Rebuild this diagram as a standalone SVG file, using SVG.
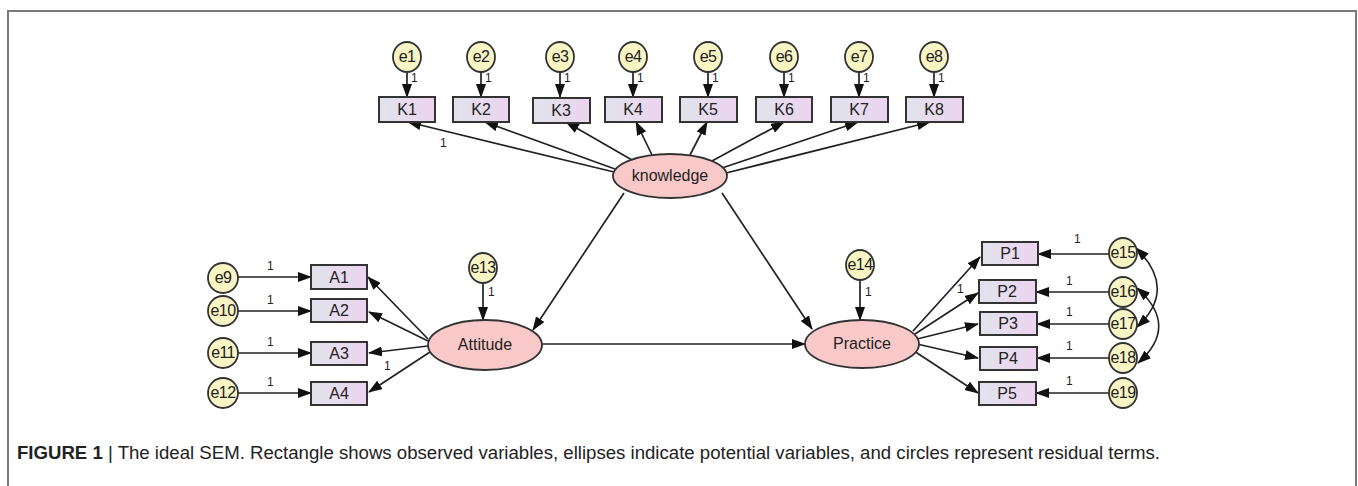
<svg xmlns="http://www.w3.org/2000/svg" width="1358" height="486" viewBox="0 0 1358 486">
<style>
.frame{fill:none;stroke:#7a7a7a;stroke-width:2}
.box{fill:url(#boxg);stroke:#333;stroke-width:2}
.err{fill:#f8f4c4;stroke:#333;stroke-width:1.8}
.lat{fill:#f8c9c8;stroke:#333;stroke-width:1.8}
.lbl{font-family:"Liberation Sans",Arial,sans-serif;font-size:16px;fill:#222;text-anchor:middle}
.el{letter-spacing:-0.6px}
.one{font-family:"Liberation Sans",Arial,sans-serif;font-size:12px;fill:#222}
.ar{fill:none;stroke:#222;stroke-width:1.7;marker-end:url(#ah)}
.cov{fill:none;stroke:#222;stroke-width:1.6;marker-start:url(#ahs);marker-end:url(#ah)}
.cap{font-family:"Liberation Sans",Arial,sans-serif;font-size:17.5px;fill:#222}
</style>
<defs>
<linearGradient id="boxg" x1="0" y1="0" x2="1" y2="0">
<stop offset="0" stop-color="#e1e3ec"/>
<stop offset="1" stop-color="#ecd4ef"/>
</linearGradient>
<marker id="ah" markerUnits="userSpaceOnUse" markerWidth="14" markerHeight="10" refX="13" refY="5" orient="auto">
<path d="M0,0 L14,5 L0,10 z" fill="#111"/>
</marker>
<marker id="ahs" markerUnits="userSpaceOnUse" markerWidth="14" markerHeight="10" refX="13" refY="5" orient="auto-start-reverse">
<path d="M0,0 L14,5 L0,10 z" fill="#111"/>
</marker>
</defs>
<rect width="1358" height="486" fill="#fff"/>
<path class="frame" d="M8,486 V11 H1356 V486"/>

<g id="connectors">
<line class="ar" x1="407" y1="72" x2="407" y2="97"/>
<line class="ar" x1="481" y1="72" x2="481" y2="97"/>
<line class="ar" x1="560" y1="72" x2="560" y2="97"/>
<line class="ar" x1="633" y1="72" x2="633" y2="97"/>
<line class="ar" x1="708" y1="72" x2="708" y2="97"/>
<line class="ar" x1="784" y1="72" x2="784" y2="97"/>
<line class="ar" x1="859" y1="72" x2="859" y2="97"/>
<line class="ar" x1="934" y1="72" x2="934" y2="97"/>
<line class="ar" x1="614" y1="172" x2="408" y2="122"/>
<line class="ar" x1="615" y1="169" x2="485" y2="122"/>
<line class="ar" x1="632" y1="160" x2="566" y2="122"/>
<line class="ar" x1="652" y1="155" x2="636" y2="122"/>
<line class="ar" x1="690" y1="155" x2="707" y2="122"/>
<line class="ar" x1="712" y1="161" x2="784" y2="122"/>
<line class="ar" x1="722" y1="168" x2="858" y2="122"/>
<line class="ar" x1="726" y1="173" x2="930" y2="122"/>
<line class="ar" x1="624" y1="193" x2="533" y2="330"/>
<line class="ar" x1="722" y1="193" x2="812" y2="329"/>
<line class="ar" x1="542" y1="344" x2="805" y2="344"/>
<line class="ar" x1="483" y1="283" x2="483" y2="320"/>
<line class="ar" x1="860" y1="280" x2="860" y2="320"/>
<line class="ar" x1="238" y1="277" x2="311" y2="277"/>
<line class="ar" x1="238" y1="311" x2="311" y2="311"/>
<line class="ar" x1="238" y1="353" x2="311" y2="353"/>
<line class="ar" x1="238" y1="393" x2="311" y2="393"/>
<line class="ar" x1="428" y1="339" x2="368" y2="277"/>
<line class="ar" x1="428" y1="341" x2="369" y2="312"/>
<line class="ar" x1="428" y1="346" x2="369" y2="353"/>
<line class="ar" x1="430" y1="352" x2="369" y2="392"/>
<line class="ar" x1="913" y1="331" x2="980" y2="257"/>
<line class="ar" x1="915" y1="334" x2="978" y2="293"/>
<line class="ar" x1="917" y1="339" x2="978" y2="324"/>
<line class="ar" x1="917" y1="344" x2="978" y2="358"/>
<line class="ar" x1="914" y1="351" x2="978" y2="393"/>
<line class="ar" x1="1109" y1="254" x2="1038" y2="254"/>
<line class="ar" x1="1109" y1="292" x2="1036" y2="292"/>
<line class="ar" x1="1109" y1="324" x2="1037" y2="324"/>
<line class="ar" x1="1109" y1="358" x2="1037" y2="358"/>
<line class="ar" x1="1109" y1="393" x2="1036" y2="393"/>
<path class="cov" d="M1136,248 Q1178,289 1137,327"/>
<path class="cov" d="M1137,288 Q1180,326 1138,363"/>
</g>

<g id="labels-1">
<text class="one" x="411" y="82">1</text>
<text class="one" x="485" y="82">1</text>
<text class="one" x="564" y="82">1</text>
<text class="one" x="637" y="82">1</text>
<text class="one" x="712" y="82">1</text>
<text class="one" x="788" y="82">1</text>
<text class="one" x="863" y="82">1</text>
<text class="one" x="938" y="82">1</text>
<text class="one" x="440" y="147">1</text>
<text class="one" x="267" y="270">1</text>
<text class="one" x="267" y="304">1</text>
<text class="one" x="267" y="346">1</text>
<text class="one" x="267" y="386">1</text>
<text class="one" x="384" y="370">1</text>
<text class="one" x="488" y="296">1</text>
<text class="one" x="865" y="296">1</text>
<text class="one" x="957" y="293">1</text>
<text class="one" x="1074" y="243">1</text>
<text class="one" x="1066" y="285">1</text>
<text class="one" x="1066" y="316">1</text>
<text class="one" x="1066" y="350">1</text>
<text class="one" x="1066" y="385">1</text>
</g>

<g id="n-e1"><ellipse class="err" cx="407" cy="57" rx="14" ry="15"/><text class="lbl el" x="407" y="62">e1</text></g>
<g id="n-e2"><ellipse class="err" cx="481" cy="57" rx="14" ry="15"/><text class="lbl el" x="481" y="62">e2</text></g>
<g id="n-e3"><ellipse class="err" cx="560" cy="57" rx="14" ry="15"/><text class="lbl el" x="560" y="62">e3</text></g>
<g id="n-e4"><ellipse class="err" cx="633" cy="57" rx="14" ry="15"/><text class="lbl el" x="633" y="62">e4</text></g>
<g id="n-e5"><ellipse class="err" cx="708" cy="57" rx="14" ry="15"/><text class="lbl el" x="708" y="62">e5</text></g>
<g id="n-e6"><ellipse class="err" cx="784" cy="57" rx="14" ry="15"/><text class="lbl el" x="784" y="62">e6</text></g>
<g id="n-e7"><ellipse class="err" cx="859" cy="57" rx="14" ry="15"/><text class="lbl el" x="859" y="62">e7</text></g>
<g id="n-e8"><ellipse class="err" cx="934" cy="57" rx="14" ry="15"/><text class="lbl el" x="934" y="62">e8</text></g>

<g id="n-K1"><rect class="box" x="379" y="97" width="56" height="25"/><text class="lbl" x="407" y="115">K1</text></g>
<g id="n-K2"><rect class="box" x="453" y="97" width="56" height="25"/><text class="lbl" x="481" y="115">K2</text></g>
<g id="n-K3"><rect class="box" x="533" y="98" width="57" height="25"/><text class="lbl" x="561" y="116">K3</text></g>
<g id="n-K4"><rect class="box" x="605" y="97" width="57" height="25"/><text class="lbl" x="633" y="115">K4</text></g>
<g id="n-K5"><rect class="box" x="680" y="97" width="57" height="25"/><text class="lbl" x="708" y="115">K5</text></g>
<g id="n-K6"><rect class="box" x="756" y="97" width="56" height="25"/><text class="lbl" x="784" y="115">K6</text></g>
<g id="n-K7"><rect class="box" x="831" y="97" width="57" height="25"/><text class="lbl" x="859" y="115">K7</text></g>
<g id="n-K8"><rect class="box" x="906" y="97" width="57" height="25"/><text class="lbl" x="934" y="115">K8</text></g>

<g id="n-knowledge"><ellipse class="lat" cx="670" cy="176" rx="57" ry="22"/><text class="lbl" x="670" y="181">knowledge</text></g>
<g id="n-attitude"><ellipse class="lat" cx="485" cy="345" rx="57" ry="25"/><text class="lbl" x="485" y="350">Attitude</text></g>
<g id="n-practice"><ellipse class="lat" cx="862" cy="344" rx="57" ry="24"/><text class="lbl" x="862" y="349">Practice</text></g>

<g id="n-e13"><ellipse class="err" cx="483" cy="268" rx="14" ry="15"/><text class="lbl el" x="483" y="273">e13</text></g>
<g id="n-e14"><ellipse class="err" cx="860" cy="265" rx="14" ry="15"/><text class="lbl el" x="860" y="270">e14</text></g>

<g id="n-e9"><ellipse class="err" cx="223" cy="278" rx="15" ry="15"/><text class="lbl el" x="223" y="283">e9</text></g>
<g id="n-e10"><ellipse class="err" cx="223" cy="311" rx="15" ry="15"/><text class="lbl el" x="223" y="316">e10</text></g>
<g id="n-e11"><ellipse class="err" cx="223" cy="353" rx="15" ry="15"/><text class="lbl el" x="223" y="358">e11</text></g>
<g id="n-e12"><ellipse class="err" cx="223" cy="393" rx="15" ry="15"/><text class="lbl el" x="223" y="398">e12</text></g>

<g id="n-A1"><rect class="box" x="311" y="265" width="56" height="24"/><text class="lbl" x="339" y="283">A1</text></g>
<g id="n-A2"><rect class="box" x="311" y="299" width="56" height="23"/><text class="lbl" x="339" y="316">A2</text></g>
<g id="n-A3"><rect class="box" x="311" y="342" width="56" height="23"/><text class="lbl" x="339" y="359">A3</text></g>
<g id="n-A4"><rect class="box" x="311" y="382" width="56" height="23"/><text class="lbl" x="339" y="399">A4</text></g>

<g id="n-P1"><rect class="box" x="982" y="242" width="56" height="23"/><text class="lbl" x="1010" y="259">P1</text></g>
<g id="n-P2"><rect class="box" x="979" y="280" width="57" height="23"/><text class="lbl" x="1007" y="297">P2</text></g>
<g id="n-P3"><rect class="box" x="980" y="312" width="57" height="23"/><text class="lbl" x="1008" y="329">P3</text></g>
<g id="n-P4"><rect class="box" x="980" y="347" width="57" height="23"/><text class="lbl" x="1008" y="364">P4</text></g>
<g id="n-P5"><rect class="box" x="979" y="382" width="57" height="23"/><text class="lbl" x="1007" y="399">P5</text></g>

<g id="n-e15"><ellipse class="err" cx="1123" cy="253" rx="14" ry="15"/><text class="lbl el" x="1123" y="258">e15</text></g>
<g id="n-e16"><ellipse class="err" cx="1123" cy="292" rx="14" ry="15"/><text class="lbl el" x="1123" y="297">e16</text></g>
<g id="n-e17"><ellipse class="err" cx="1123" cy="324" rx="14" ry="15"/><text class="lbl el" x="1123" y="329">e17</text></g>
<g id="n-e18"><ellipse class="err" cx="1123" cy="358" rx="14" ry="15"/><text class="lbl el" x="1123" y="363">e18</text></g>
<g id="n-e19"><ellipse class="err" cx="1123" cy="393" rx="14" ry="15"/><text class="lbl el" x="1123" y="398">e19</text></g>

<g id="caption"><text class="cap" x="17" y="459" textLength="1143" lengthAdjust="spacingAndGlyphs"><tspan font-weight="bold">FIGURE 1</tspan> | The ideal SEM. Rectangle shows observed variables, ellipses indicate potential variables, and circles represent residual terms.</text></g>
</svg>
